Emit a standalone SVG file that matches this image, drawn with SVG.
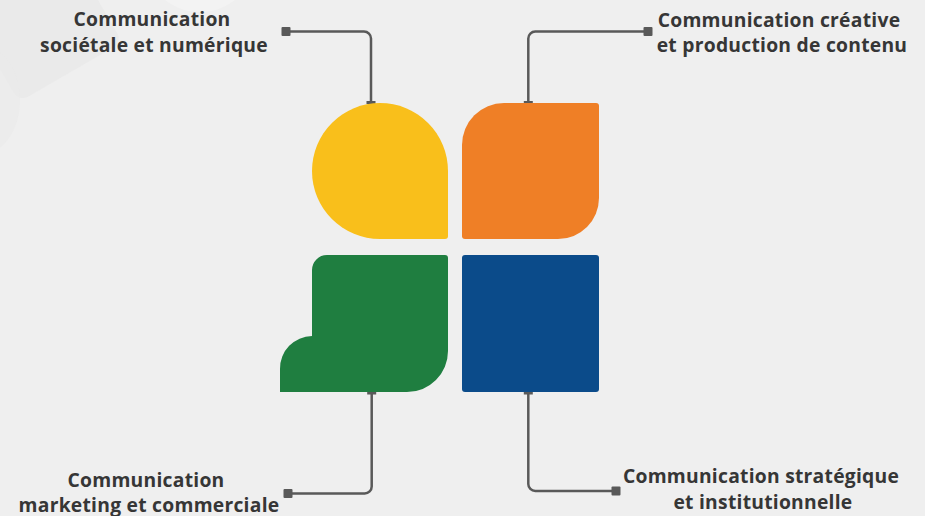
<svg xmlns="http://www.w3.org/2000/svg" width="925" height="516" viewBox="0 0 925 516">
  <defs>
    <style>
      .lbl { font-family: "Open Sans", "Liberation Sans", sans-serif; font-weight: 700; font-size: 19.3px; letter-spacing: 0.25px; fill: #363636; text-anchor: middle; }
      .conn { fill: none; stroke: #595959; stroke-width: 2.5; stroke-linejoin: round; }
      .end { fill: #595959; }
    </style>
  </defs>
  <rect x="0" y="0" width="925" height="516" fill="#efefef"/>
  <g id="background-decor">
    <rect x="-18" y="-40" width="119" height="119" rx="10" transform="rotate(-30 43 21)" fill="#e9e9e9" opacity="0.8"/>
    <circle cx="200" cy="-45" r="57" fill="#f3f3f3"/>
    <ellipse cx="-20" cy="100" rx="40" ry="55" fill="#eaeaea" opacity="0.6"/>
  </g>
  <g id="connectors">
    <path class="conn" d="M286,31.5 H364 A7,7 0 0 1 371,38.5 V103"/>
    <path class="conn" d="M648,31.5 H535.3 A7,7 0 0 0 528.3,38.5 V103"/>
    <path class="conn" d="M288,493.5 H364.7 A7,7 0 0 0 371.7,486.5 V392"/>
    <path class="conn" d="M616,491 H535.3 A7,7 0 0 1 528.3,484 V392"/>
    <rect class="end" x="281.5" y="27" width="9" height="9" rx="1"/>
    <rect class="end" x="643.5" y="27" width="9" height="9" rx="1"/>
    <rect class="end" x="283.5" y="489" width="9" height="9" rx="1"/>
    <rect class="end" x="611.5" y="486.5" width="9" height="9" rx="1"/>
    <rect class="end" x="366.5" y="101" width="9" height="3"/>
    <rect class="end" x="523.8" y="101" width="9" height="3"/>
    <rect class="end" x="367.2" y="391.5" width="9" height="3"/>
    <rect class="end" x="523.8" y="391.5" width="9" height="3"/>
  </g>
  <g id="node-societale">
    <path d="M380,103 A68,68 0 0 1 448,171 L448,236 Q448,239 445,239 L380,239 A68,68 0 0 1 380,103 Z" fill="#f9bf1b"/>
    <text class="lbl" x="152" y="26">Communication</text>
    <text class="lbl" x="154" y="52">sociétale et numérique</text>
  </g>
  <g id="node-creative">
    <path d="M504,103 L596,103 Q599,103 599,106 L599,198 A41,41 0 0 1 558,239 L465,239 Q462,239 462,236 L462,145 A42,42 0 0 1 504,103 Z" fill="#ef7f26"/>
    <text class="lbl" x="779" y="26.5">Communication créative</text>
    <text class="lbl" x="782" y="51.5">et production de contenu</text>
  </g>
  <g id="node-marketing">
    <path d="M312,270 A15,15 0 0 1 327,255 L445,255 Q448,255 448,258 L448,351 A41,41 0 0 1 407,392 L280,392 L280,369 A32.5,32.5 0 0 1 312,336 Z" fill="#1f7e40"/>
    <text class="lbl" x="146" y="487">Communication</text>
    <text class="lbl" x="149" y="511.5">marketing et commerciale</text>
  </g>
  <g id="node-strategique">
    <rect x="462" y="255" width="137" height="137" rx="3" fill="#0b4b8a"/>
    <text class="lbl" x="761" y="483">Communication stratégique</text>
    <text class="lbl" x="763" y="508.5">et institutionnelle</text>
  </g>
</svg>
